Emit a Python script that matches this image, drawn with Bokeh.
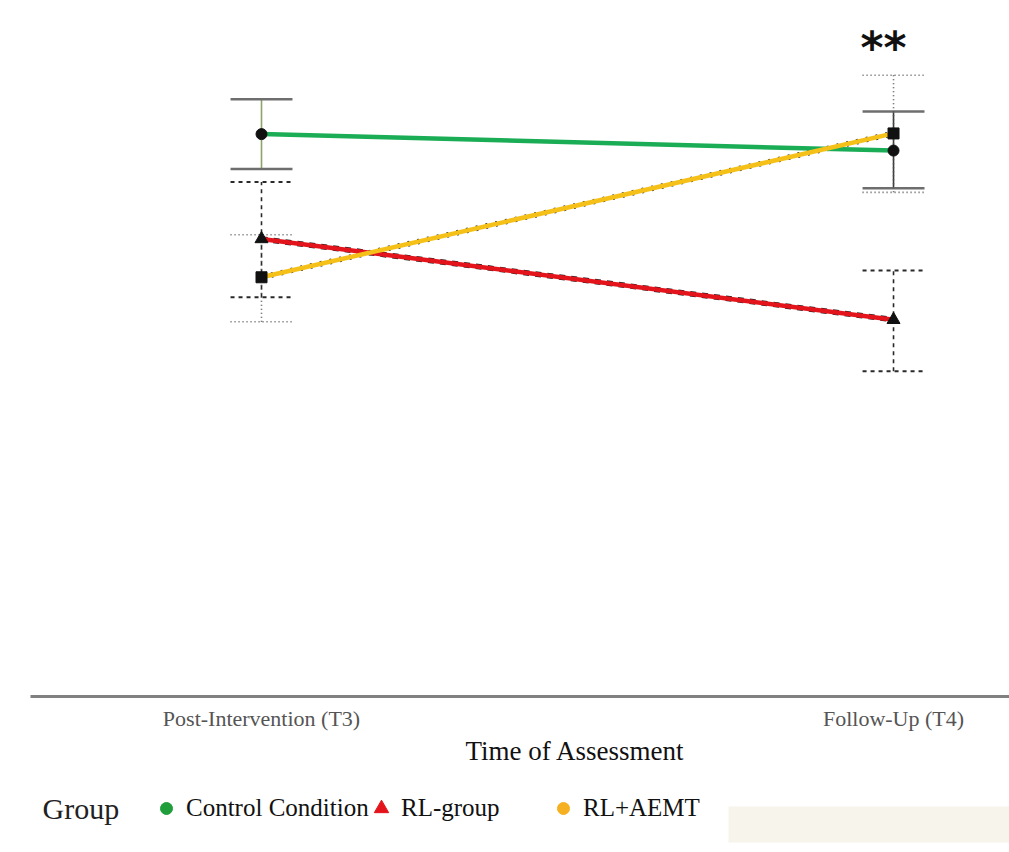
from bokeh.plotting import figure
from bokeh.models import (Range1d, FixedTicker, Legend, LegendItem, Label,
                          Title)
from bokeh.layouts import column
from bokeh.core.properties import value
from bokeh.embed import file_html
from bokeh.resources import INLINE

# ---------------- data ----------------
timepoints = ["Post-Intervention (T3)", "Follow-Up (T4)"]
x_pos = [1, 2]
groups = ["Control Condition", "RL-group", "RL+AEMT"]

control_mean = [8.21, 7.97]
control_lo = [7.70, 7.42]
control_hi = [8.72, 8.54]

rl_mean = [6.68, 5.50]
rl_lo = [5.83, 4.75]
rl_hi = [7.51, 6.22]

aemt_mean = [6.12, 8.22]
aemt_lo = [5.47, 7.36]
aemt_hi = [6.74, 9.07]

sig_label = "**"
sig_x = 2
sig_y = 9.47

axis_title = "Time of Assessment"
legend_title = "Group"

# ---------------- styles ----------------
SERIF = "Liberation Serif"
line_colors = ["#1aad55", "#e3141b", "#f5c118"]
legend_colors = ["#1f9e3a", "#e3141b", "#f5b121"]
legend_markers = ["circle", "triangle", "circle"]
legend_glyph = [30, 36, 30]
legend_standoff = [5, 2, 5]
legend_x = [121, 333, 518]
cap_half = 0.049

W = 1009
p = figure(width=W, height=765, output_backend="svg",
           toolbar_location=None,
           x_range=Range1d(0.6345, 2.1835), y_range=Range1d(0, 10),
           min_border_left=30, min_border_right=0, min_border_top=11,
           min_border_bottom=68)
p.background_fill_color = "white"
p.border_fill_color = "white"
p.outline_line_color = None
p.grid.visible = False
p.yaxis.visible = False

xa = p.xaxis[0]
xa.ticker = FixedTicker(ticks=x_pos)
xa.major_label_overrides = {x: t for x, t in zip(x_pos, timepoints)}
xa.major_tick_line_color = None
xa.minor_tick_line_color = None
xa.axis_line_color = "#808080"
xa.axis_line_width = 3
xa.major_label_text_font = SERIF
xa.major_label_text_font_size = "22px"
xa.major_label_text_color = "#555555"
xa.major_label_standoff = 3


def errbars(lo, hi, color, width, dash, vcolors=None):
    xl = [x - cap_half for x in x_pos]
    xr = [x + cap_half for x in x_pos]
    vc = vcolors if vcolors else [color] * len(x_pos)
    p.segment(x0=x_pos, y0=lo, x1=x_pos, y1=hi, line_color=vc,
              line_width=1.6, line_dash=dash)
    p.segment(x0=xl, y0=hi, x1=xr, y1=hi, line_color=color,
              line_width=width, line_dash=dash)
    p.segment(x0=xl, y0=lo, x1=xr, y1=lo, line_color=color,
              line_width=width, line_dash=dash)


errbars(control_lo, control_hi, "#6e6e6e", 2.5, "solid",
        vcolors=["#8ea36a", "#3a3a3a"])
errbars(rl_lo, rl_hi, "#2a2a2a", 2.0, "4 4")
errbars(aemt_lo, aemt_hi, "#555555", 1.6, "1 3")

# faint black patterned edges and coloured lines
p.line(x_pos, rl_mean, line_color="#222222", line_width=5.5, line_dash="6 6")
p.line(x_pos, aemt_mean, line_color="#222222", line_width=5.5, line_dash="2 8")
p.line(x_pos, control_mean, line_color=line_colors[0], line_width=4.5)
p.line(x_pos, rl_mean, line_color=line_colors[1], line_width=4.5)
p.line(x_pos, aemt_mean, line_color=line_colors[2], line_width=4.5)

# markers
p.scatter(x_pos, control_mean, marker="circle", size=11, fill_color="#111111",
          line_color="#111111")
p.scatter(x_pos, rl_mean, marker="triangle", size=13, fill_color="#111111",
          line_color="#111111")
p.scatter(x_pos, aemt_mean, marker="square", size=11, fill_color="#111111",
          line_color="#111111")

# significance
p.text(x=[sig_x], y=[sig_y], text=[sig_label], text_font=value("DejaVu Sans"),
       text_font_style="bold", text_font_size="44px", text_align="center",
       text_baseline="alphabetic", x_offset=-10, text_color="#111111")

# axis title, centred between the two time points
p.add_layout(Title(text=axis_title, align="left", offset=435,
                   text_font=SERIF, text_font_size="27px",
                   text_font_style="normal", text_color="#111111",
                   text_line_height=0.85, standoff=0), "below")

# ---------------- legend row ----------------
FW2, H2 = 979, 87
q = figure(width=W, height=H2, output_backend="svg", toolbar_location=None,
           x_range=Range1d(0, FW2), y_range=Range1d(0, H2),
           min_border_left=30, min_border_right=0, min_border_top=0,
           min_border_bottom=0)
q.background_fill_color = "white"
q.border_fill_color = "white"
q.outline_line_color = None
q.grid.visible = False
q.axis.visible = False

# faint cream panel at the right of the legend row
q.quad(left=[698], right=[FW2], bottom=[10], top=[46], fill_color="#f7f4ec",
       line_color=None)

q.add_layout(Label(x=12, y=44, text=legend_title, text_font=SERIF,
                   text_font_size="30px", text_align="left",
                   text_baseline="middle", text_color="#222222"))

for g, c, m, gw, st, lx in zip(groups, legend_colors, legend_markers,
                               legend_glyph, legend_standoff, legend_x):
    r = q.scatter([-100], [-100], marker=m, size=10, fill_color=c,
                  line_color=c)
    lg = Legend(items=[LegendItem(label=g, renderers=[r])],
                location=(lx, 30 - (gw - 29) / 2), orientation="horizontal")
    lg.label_text_font = SERIF
    lg.label_text_font_size = "25px"
    lg.label_text_color = "#111111"
    lg.glyph_width = gw
    lg.glyph_height = gw
    lg.label_standoff = st
    lg.padding = 4
    lg.margin = 0
    lg.border_line_color = None
    lg.background_fill_alpha = 0
    q.add_layout(lg, "center")

layout = column(p, q, spacing=0)
open("out.html", "w").write(file_html(layout, INLINE))
